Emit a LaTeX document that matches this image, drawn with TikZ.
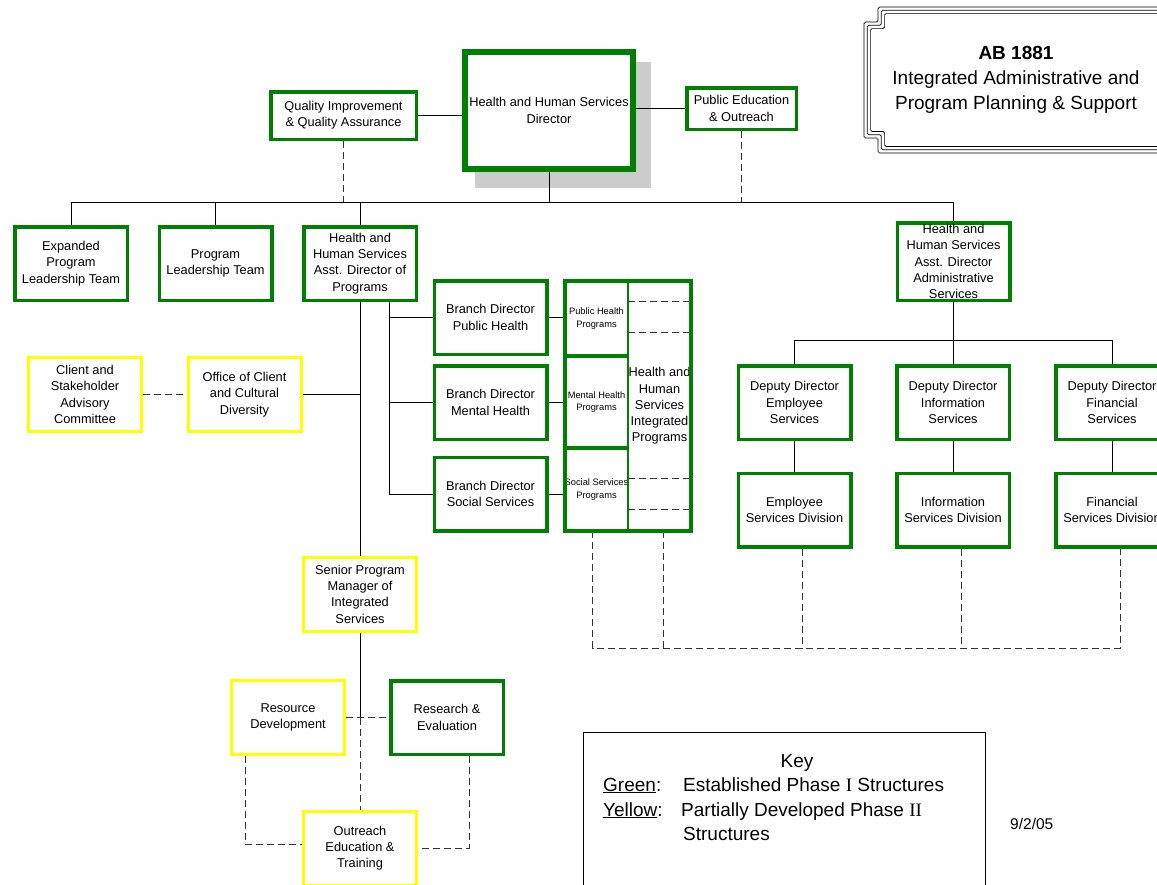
\documentclass[tikz,border=0pt]{standalone}
\usepackage{fontspec}
\setmainfont{Liberation Sans}
\newfontfamily\romfont{Liberation Serif}
\usetikzlibrary{positioning}
\definecolor{grn}{HTML}{008000}
\definecolor{ylw}{HTML}{FFFF00}
\definecolor{shadowgray}{HTML}{CCCCCC}
\definecolor{dashgray}{HTML}{333333}

\begin{document}
\begin{tikzpicture}[
  x=1pt,y=-1pt,
  every node/.style={font=\fontsize{12.8}{16.3}\selectfont,align=center,inner sep=0pt},
  gbox/.style={draw=grn,line width=3.5pt,fill=white,minimum width=112.5pt,minimum height=73.5pt},
  ybox/.style={draw=ylw,line width=3pt,fill=white,minimum width=113pt,minimum height=74pt},
  cell/.style={minimum width=63pt,font=\fontsize{9.3}{12.5}\selectfont},
  link/.style={line width=0.9pt,draw=black},
  dashlink/.style={line width=0.9pt,draw=dashgray,dash pattern=on 7pt off 4pt},
  keytext/.style={font=\fontsize{19}{24.5}\selectfont,anchor=base west}
]
\useasboundingbox (0,0) rectangle (1157,884);
\clip (0,0) rectangle (1157,884);
\fill[white] (0,0) rectangle (1157,884);

% title frame
\foreach \d in {0,3.3,6.6}
  \draw[line width=0.7pt,rounded corners=1.5pt] (878+\d,7+\d) -- (1190,7+\d) -- (1190,153-\d) -- (878+\d,153-\d) -- (878+\d,138-\d) -- (864+\d,138-\d) -- (864+\d,22+\d) -- (878+\d,22+\d) -- cycle;
\node[font=\fontsize{19}{25}\selectfont] (title) at (1016,80) {{\bfseries AB 1881}\\Integrated Administrative and\\Program Planning \& Support};

% director and staff
\fill[shadowgray] (475,62) rectangle (651,188);
\node[gbox,line width=6pt,minimum width=168pt,minimum height=117pt] (dir) at (549,110.5) {Health and Human Services\\Director};
\node[gbox,minimum width=145.5pt,minimum height=47.5pt] (qiqa) at (343.5,115.5) {Quality Improvement\\\& Quality Assurance};
\node[gbox,minimum width=109.5pt,minimum height=41.5pt] (pubed) at (741.5,108.5) {Public Education\\\& Outreach};

\node[gbox] (expld) at (71,263.5) {Expanded\\Program\\Leadership Team};
\node[gbox] (progld) at (215.5,263.5) {Program\\Leadership Team};
\node[gbox] (adprog) at (360,263.5) {Health and\\Human Services\\Asst. Director of\\Programs};
\node[gbox,minimum height=77.5pt] (adadmin) at (953.5,261.5) {Health and\\Human Services\\Asst. Director\\Administrative\\Services};

% programs side
\node[gbox] (bdph) at (490.5,317.5) {Branch Director\\Public Health};
\node[gbox] (bdmh) at (490.5,402.5) {Branch Director\\Mental Health};
\node[gbox] (bdss) at (490.5,494) {Branch Director\\Social Services};

\node[cell,minimum height=75pt] (phprog) at (596.5,318.5) {Public Health\\Programs};
\node[cell,minimum height=92pt] (mhprog) at (596.5,402) {Mental Health\\Programs};
\node[cell,minimum height=83pt] (ssprog) at (596.5,489.5) {Social Services\\Programs};
\node[cell,minimum height=250pt,font=\fontsize{12.8}{16.3}\selectfont] (hhsprog) at (659.5,406) {Health and\\Human\\Services\\Integrated\\Programs};

\node[ybox] (csac) at (85,394.5) {Client and\\Stakeholder\\Advisory\\Committee};
\node[ybox] (occd) at (244.5,394.5) {Office of Client\\and Cultural\\Diversity};
\node[ybox] (spm) at (360,594) {Senior Program\\Manager of\\Integrated\\Services};
\node[ybox] (resdev) at (288,717.5) {Resource\\Development};
\node[gbox] (reseval) at (447,717.5) {Research \&\\Evaluation};
\node[ybox] (oet) at (360,848) {Outreach\\Education \&\\Training};

% administrative side
\node[gbox] (depemp) at (794.5,402.5) {Deputy Director\\Employee\\Services};
\node[gbox] (depinfo) at (953,402.5) {Deputy Director\\Information\\Services};
\node[gbox] (depfin) at (1112,402.5) {Deputy Director\\Financial\\Services};
\node[gbox] (divemp) at (794.5,510) {Employee\\Services Division};
\node[gbox] (divinfo) at (953,510) {Information\\Services Division};
\node[gbox] (divfin) at (1112,510) {Financial\\Services Division};

% key
\node[draw,line width=0.8pt,minimum width=402pt,minimum height=160pt] (keybox) at (784,812) {};
\node[keytext,anchor=base] (keyhead) at (797,767) {Key};
\node[keytext] (keygreen) at (603,791) {\underline{Green}:};
\node[keytext] (keyest) at (683,791) {Established Phase {\romfont I} Structures};
\node[keytext] (keyyellow) at (603,816) {\underline{Yellow}:};
\node[keytext] (keypart) at (681,816) {Partially Developed Phase {\romfont II}};
\node[keytext] (keystruct) at (683,840) {Structures};
\node[anchor=base west,font=\fontsize{15.5}{18}\selectfont] (date) at (1010,829) {9/2/05};

% top connectors
\coordinate (bar) at (0,202);
\draw[link] (qiqa.east) -- (qiqa.east -| dir.west);
\draw[link] (pubed.west -| dir.east) -- (pubed.west);
\draw[link] (dir.south) -- (dir.south |- bar);
\draw[dashlink] (qiqa.south) -- (qiqa.south |- bar);
\draw[dashlink] (pubed.south) -- (pubed.south |- bar);
\draw[link] (expld.north |- bar) -- (adadmin.north |- bar);
\foreach \n in {expld,progld,adprog,adadmin}
  \draw[link] (\n.north |- bar) -- (\n.north);

% programs connectors
\coordinate (trunk) at (389,0);
\draw[link] (adprog.south) -- (spm.north);
\draw[link] (adprog.south -| trunk) -- (trunk |- bdss.west) -- (bdss.west);
\draw[link] (trunk |- bdph.west) -- (bdph.west);
\draw[link] (trunk |- bdmh.west) -- (bdmh.west);
\draw[link] (occd.east) -- (occd.east -| adprog.south);
\draw[dashlink] (csac.east) -- (occd.west);
\foreach \n in {ph,mh,ss}
  \draw[link] (bd\n.east) -- (bd\n.east -| \n prog.west);

\coordinate (rdmid) at (spm.south |- resdev.east);
\draw[link] (spm.south) -- (rdmid);
\draw[dashlink] (rdmid) -- (oet.north);
\draw[dashlink] (resdev.east) -- (reseval.west);
\draw[dashlink] ([xshift=15pt]resdev.south west) |- ([yshift=4pt]oet.west);
\draw[dashlink] ([xshift=22pt]reseval.south) |- (oet.east);

% admin connectors
\coordinate (admbar) at (0,340);
\draw[link] (adadmin.south) -- (adadmin.south |- admbar);
\draw[link] (depemp.north |- admbar) -- (depfin.north |- admbar);
\foreach \n in {emp,info,fin} {
  \draw[link] (dep\n.north |- admbar) -- (dep\n.north);
  \draw[link] (dep\n.south) -- (div\n.north);
}

% dashed links along the bottom
\coordinate (bot) at (0,648);
\coordinate (ssdrop) at ([xshift=-4pt]ssprog.south);
\coordinate (hhsdrop) at ([xshift=4pt]hhsprog.south);
\coordinate (empdrop) at ([xshift=8pt]divemp.south);
\coordinate (infdrop) at ([xshift=8pt]divinfo.south);
\coordinate (findrop) at ([xshift=8pt]divfin.south);
\draw[dashlink] (ssdrop) -- (ssdrop |- bot) -- (findrop |- bot) -- (findrop);
\draw[dashlink] (hhsdrop) -- (hhsdrop |- bot);
\draw[dashlink] (empdrop) -- (empdrop |- bot);
\draw[dashlink] (infdrop) -- (infdrop |- bot);

% integrated programs frame
\foreach \dy in {21,52,198,229}
  \draw[dashlink] ([yshift=-\dy pt]hhsprog.north west) -- ([yshift=-\dy pt]hhsprog.north east);
\draw[grn,line width=2pt] (hhsprog.north west) -- (hhsprog.south west);
\draw[grn,line width=3.5pt] (phprog.south west) -- (phprog.south east);
\draw[grn,line width=3.5pt] (mhprog.south west) -- (mhprog.south east);
\draw[grn,line width=3.5pt] (phprog.north west) rectangle (hhsprog.south east);
\end{tikzpicture}
\end{document}
